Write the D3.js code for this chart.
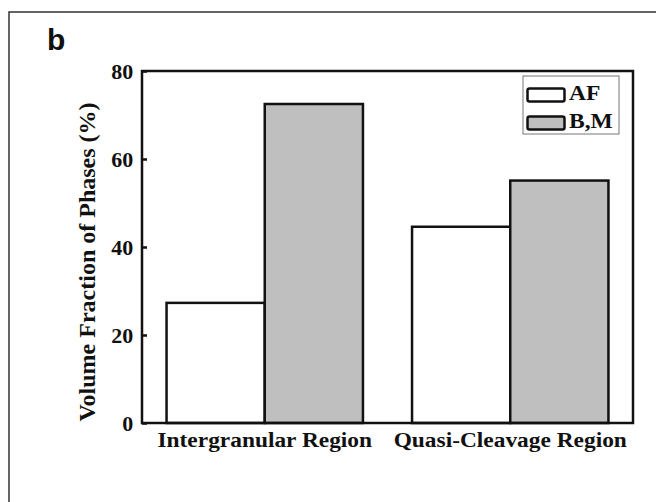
<!DOCTYPE html>
<html>
<head>
<meta charset="utf-8">
<script src="https://cdn.jsdelivr.net/npm/d3@7"></script>
<style>
  body { margin: 0; background: #fff; }
  text { font-family: "Liberation Serif", "Times New Roman", serif; font-weight: bold; fill: #111; }
</style>
</head>
<body>
<div id="canvas"></div>
<script>
// data
var categories = ['Intergranular Region', 'Quasi-Cleavage Region'];
var seriesNames = ['AF', 'B,M'];
var afValues = [27.3, 44.6];
var bmValues = [72.5, 55.1];
var seriesFill = ['#ffffff', '#bfbfbf'];
var yTicks = [0, 20, 40, 60, 80];

var W = 656, H = 502;
var m = {t:71, r:23, b:79, l:142},
    w = W - m.l - m.r,
    h = H - m.t - m.b;

var svg = d3.select('#canvas')
    .append('svg')
    .attr('width', W)
    .attr('height', H);

// outer panel border (runs off the right / bottom of the picture)
svg.append('rect')
    .attr('x', 9).attr('y', 12)
    .attr('width', W).attr('height', H)
    .style('fill', 'none')
    .style('stroke', '#333')
    .style('stroke-width', 1.5);

svg.append('text')
    .attr('x', 47).attr('y', 49.5)
    .style('font-family', '"Liberation Sans", Arial, sans-serif')
    .style('font-size', '30px')
    .text('b');

var plot = svg.append('g')
    .attr('transform', 'translate(' + m.l + ',' + m.t + ')');

//scales
var x = d3.scaleBand()
    .domain(categories)
    .range([0, w])
    .paddingInner(0.2)
    .paddingOuter(0.1);

var xs = d3.scaleBand()
    .domain(seriesNames)
    .range([0, x.bandwidth()]);

var y = d3.scaleLinear()
    .domain([0, 80])
    .range([h, 0]);

var rows = categories.map(function(c, i){
    return {cat: c, vals: [afValues[i], bmValues[i]]};
});

var groups = plot.selectAll('.group')
    .data(rows)
    .enter()
    .append('g').attr('class', 'group')
    .attr('transform', function(d){ return 'translate(' + x(d.cat) + ',0)'; });

groups.selectAll('rect')
    .data(function(d){ return d.vals.map(function(v, j){ return {s: seriesNames[j], v: v, j: j}; }); })
    .enter()
    .append('rect')
    .attr('x', function(d){ return xs(d.s); })
    .attr('y', function(d){ return y(d.v); })
    .attr('width', xs.bandwidth())
    .attr('height', function(d){ return h - y(d.v); })
    .style('fill', function(d){ return seriesFill[d.j]; })
    .style('stroke', '#111')
    .style('stroke-width', 2.5);

// y axis, ticks point inward
var yAxis = plot.append('g')
    .call(d3.axisLeft(y).tickValues(yTicks).tickSizeInner(-5).tickSizeOuter(0).tickPadding(8));
yAxis.select('.domain').remove();
yAxis.selectAll('line').style('stroke', '#111').style('stroke-width', 2.5);
yAxis.selectAll('text')
    .attr('dy', '0.35em')
    .attr('transform', 'scale(1.1,1)')
    .style('font-family', '"Liberation Serif", "Times New Roman", serif')
    .style('font-size', '20px')
    .style('fill', '#111');

// frame
plot.append('rect')
    .attr('width', w).attr('height', h)
    .style('fill', 'none')
    .style('stroke', '#111')
    .style('stroke-width', 2.5);

// category labels
plot.selectAll('.cat')
    .data(categories)
    .enter()
    .append('text').attr('class', 'cat')
    .attr('transform', function(d){ return 'translate(' + (x(d) + x.bandwidth()/2) + ',' + (h + 24) + ') scale(1.17,1)'; })
    .attr('text-anchor', 'middle')
    .style('font-size', '20px')
    .text(function(d){ return d; });

// y title
svg.append('text')
    .attr('transform', 'translate(95,262) rotate(-90)')
    .attr('text-anchor', 'middle')
    .style('font-size', '24px')
    .text('Volume Fraction of Phases (%)');

// legend
var lg = svg.append('g').attr('transform', 'translate(523,76)');
lg.append('rect')
    .attr('width', 96).attr('height', 58)
    .style('fill', '#fff')
    .style('stroke', '#777')
    .style('stroke-width', 1);

var items = lg.selectAll('.item')
    .data(seriesNames)
    .enter()
    .append('g').attr('class', 'item')
    .attr('transform', function(d, i){ return 'translate(0,' + (i * 28) + ')'; });

items.append('rect')
    .attr('x', 4.5).attr('y', 12.5)
    .attr('width', 37).attr('height', 13)
    .attr('rx', 2)
    .style('fill', function(d, i){ return seriesFill[i]; })
    .style('stroke', '#111')
    .style('stroke-width', 2.5);

items.append('text')
    .attr('transform', 'translate(46,24) scale(1.07,1)')
    .style('font-size', '22px')
    .text(function(d){ return d; });
</script>
</body>
</html>
